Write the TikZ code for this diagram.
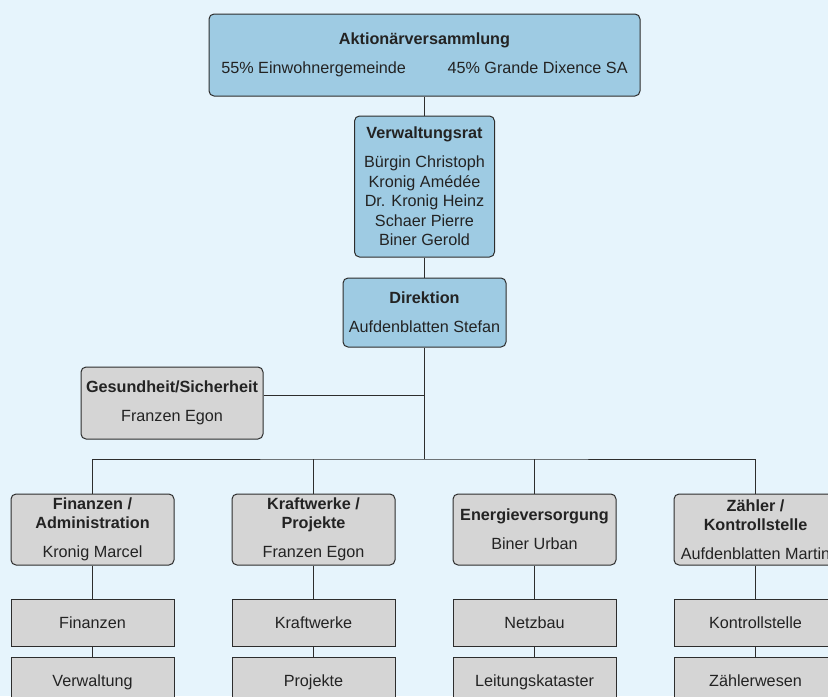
\documentclass[tikz,border=0pt]{standalone}
\usepackage{fontspec}
\setmainfont{Liberation Sans}
\usetikzlibrary{positioning}
\definecolor{pagebg}{RGB}{230,244,252}
\definecolor{boardblue}{RGB}{158,203,227}
\definecolor{deptgray}{RGB}{213,213,213}
\definecolor{framegray}{RGB}{45,45,45}
\definecolor{inkgray}{RGB}{35,35,35}

\begin{document}
\begin{tikzpicture}[
			x=0.5pt, y=-0.5pt,
			font=\fontsize{8.1}{9.75}\selectfont,
			text=inkgray,
			% Organigram box styles
			boardbox/.style={
				draw=framegray, fill=boardblue,
				rounded corners=2.5pt,
				align=center, inner sep=1pt,
				line width=0.5pt
			},
			deptbox/.style={
				draw=framegray, fill=deptgray,
				rounded corners=2.5pt,
				minimum width=81.5pt, minimum height=35.5pt,
				align=center, inner sep=1pt,
				line width=0.5pt
			},
			unitbox/.style={
				draw=framegray, fill=deptgray,
				minimum width=81.5pt, minimum height=23.5pt,
				text height=6pt, text depth=0.2pt,
				align=center, inner sep=1pt,
				line width=0.5pt
			},
			link/.style={draw=framegray, line width=0.5pt}
		]

		% Page
		\useasboundingbox (0,0) rectangle (828,696);
		\clip (0,0) rectangle (828,696);
		\fill[pagebg] (0,0) rectangle (828,696);

		% Nodes (top to bottom)
		\node[boardbox, minimum width=215.5pt, minimum height=41pt] (aktionaere) at (424.5,55)
			{\textbf{Aktionärversammlung}\\[4.75pt]
			55\% Einwohnergemeinde\hspace{20.8pt}45\% Grande Dixence SA};

		\node[boardbox, minimum width=70pt, minimum height=70.5pt, below=9.5pt of aktionaere] (rat)
			{\textbf{Verwaltungsrat}\\[4.75pt]
			Bürgin Christoph\\Kronig Amédée\\Dr. Kronig Heinz\\Schaer Pierre\\Biner Gerold};

		\node[boardbox, minimum width=81.5pt, minimum height=34.5pt, below=10pt of rat] (direktion)
			{\textbf{Direktion}\\[4.75pt]Aufdenblatten Stefan};

		\node[deptbox, minimum width=91pt, minimum height=36pt] (gesundheit) at (172,403)
			{\textbf{Gesundheit/Sicherheit}\\[4.75pt]Franzen Egon};

		\coordinate (verteiler) at (424.5,459);

		% Departments
		\node[deptbox] (finanzen) at (92.5,529.5)
			{\textbf{Finanzen /}\\\textbf{Administration}\\[4.75pt]Kronig Marcel};
		\node[deptbox, right=28.5pt of finanzen] (kraftwerke)
			{\textbf{Kraftwerke /}\\\textbf{Projekte}\\[4.75pt]Franzen Egon};
		\node[deptbox, right=28.5pt of kraftwerke] (energie)
			{\textbf{Energieversorgung}\\[4.75pt]Biner Urban};
		\node[deptbox, right=28.5pt of energie] (zaehler)
			{\textbf{Zähler /}\\\textbf{Kontrollstelle}\\[4.75pt]Aufdenblatten Martin};

		% Units
		\node[unitbox, below=16.5pt of finanzen] (finanzenA) {Finanzen};
		\node[unitbox, below=5pt of finanzenA] (finanzenB) {Verwaltung};
		\node[unitbox, below=16.5pt of kraftwerke] (kraftwerkeA) {Kraftwerke};
		\node[unitbox, below=5pt of kraftwerkeA] (kraftwerkeB) {Projekte};
		\node[unitbox, below=16.5pt of energie] (energieA) {Netzbau};
		\node[unitbox, below=5pt of energieA] (energieB) {Leitungskataster};
		\node[unitbox, below=16.5pt of zaehler] (zaehlerA) {Kontrollstelle};
		\node[unitbox, below=5pt of zaehlerA] (zaehlerB) {Zählerwesen};

		% Connectors
		\draw[link] (aktionaere) -- (rat);
		\draw[link] (rat) -- (direktion);
		\draw[link] (direktion.south) -- (verteiler);
		\draw[link] (gesundheit.5.6) -- (gesundheit.5.6 -| direktion.south);
		\draw[link] (finanzen.north) |- (verteiler) -| (zaehler.north);
		\draw[link] (kraftwerke.north) -- (kraftwerke.north |- verteiler);
		\draw[link] (energie.north) -- (energie.north |- verteiler);
		\foreach \dept in {finanzen, kraftwerke, energie, zaehler} {
			\draw[link] (\dept) -- (\dept A);
			\draw[link] (\dept A) -- (\dept B);
		}

		\end{tikzpicture}
\end{document}
